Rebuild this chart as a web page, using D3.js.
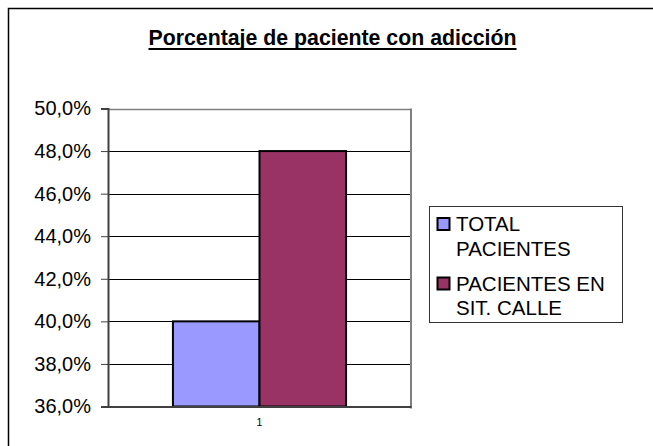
<!DOCTYPE html>
<html>
<head>
<meta charset="utf-8">
<script src="https://cdn.jsdelivr.net/npm/d3@7"></script>
<style>
  body { margin: 0; background: #fff; }
  text { font-family: "Liberation Sans", Arial, sans-serif; }
</style>
</head>
<body>
<div id="chart"></div>
<script>
// Data
const categories = ["1"];
const seriesNames = ["TOTAL PACIENTES", "PACIENTES EN SIT. CALLE"];
const seriesValues = [0.400, 0.480];
const seriesColors = ["#9999FF", "#993366"];
const legendLines = [["TOTAL", "PACIENTES"], ["PACIENTES EN", "SIT. CALLE"]];
const yTicks = [0.36, 0.38, 0.40, 0.42, 0.44, 0.46, 0.48, 0.50];
const titleText = "Porcentaje de paciente con adicción";

const width = 653;
const height = 446;
const plot = { left: 108, right: 411, top: 108.5, bottom: 406.5 };

const svg = d3.select("#chart")
  .append("svg")
  .attr("width", width)
  .attr("height", height);

// outer chart border (runs off the right/bottom edge)
svg.append("rect")
  .attr("x", 8.5)
  .attr("y", 8.5)
  .attr("width", 680)
  .attr("height", 480)
  .attr("fill", "#fff")
  .attr("stroke", "#000")
  .attr("stroke-width", 1.5);

// Title with underline
const title = svg.append("text")
  .attr("x", 332.5)
  .attr("y", 45)
  .attr("text-anchor", "middle")
  .attr("font-size", 21.3)
  .attr("font-weight", "bold")
  .attr("fill", "#000")
  .text(titleText);
const tb = title.node().getBBox();
svg.append("line")
  .attr("x1", tb.x)
  .attr("x2", tb.x + tb.width)
  .attr("y1", 49)
  .attr("y2", 49)
  .attr("stroke", "#000")
  .attr("stroke-width", 2);

// Scales
const y = d3.scaleLinear()
  .domain([0.36, 0.50])
  .range([plot.bottom, plot.top]);

const x0 = d3.scaleBand()
  .domain(categories)
  .range([plot.left, plot.right])
  .paddingInner(0)
  .paddingOuter(0.375);

const x1 = d3.scaleBand()
  .domain(seriesNames)
  .range([0, x0.bandwidth()])
  .padding(0);

const esLocale = d3.formatLocale({ decimal: ",", thousands: ".", grouping: [3], currency: ["", "€"] });
const fmt = esLocale.format(".1%");

// Gridlines
svg.append("g")
  .selectAll("line")
  .data(yTicks.slice(1))
  .enter()
  .append("line")
    .attr("x1", plot.left)
    .attr("x2", plot.right)
    .attr("y1", d => Math.round(y(d)) + 0.5)
    .attr("y2", d => Math.round(y(d)) + 0.5)
    .attr("stroke", d => d === 0.50 ? "#808080" : "#000")
    .attr("stroke-width", d => d === 0.50 ? 1.5 : 1);

// right frame border
svg.append("line")
  .attr("x1", plot.right)
  .attr("x2", plot.right)
  .attr("y1", plot.top)
  .attr("y2", plot.bottom + 2)
  .attr("stroke", "#808080")
  .attr("stroke-width", 2);

// Bars
svg.append("g")
  .attr("transform", `translate(${x0(categories[0])},0)`)
  .selectAll("rect")
  .data(seriesValues)
  .enter()
  .append("rect")
    .attr("x", (d, i) => x1(seriesNames[i]))
    .attr("y", d => y(d))
    .attr("width", x1.bandwidth())
    .attr("height", d => plot.bottom - y(d))
    .attr("fill", (d, i) => seriesColors[i])
    .attr("stroke", "#000")
    .attr("stroke-width", 2);

// Y axis
const yAxis = svg.append("g")
  .attr("transform", `translate(${plot.left},0)`)
  .call(d3.axisLeft(y).tickValues(yTicks).tickFormat(fmt).tickSize(7).tickPadding(10));
yAxis.select(".domain")
  .attr("stroke", "#404040")
  .attr("stroke-width", 2);
yAxis.selectAll(".tick line").attr("stroke", "#404040");
yAxis.selectAll(".tick text")
  .attr("font-family", "Liberation Sans, Arial, sans-serif")
  .attr("font-size", 20)
  .attr("fill", "#000");

// X axis
const xAxis = svg.append("g")
  .attr("transform", `translate(0,${plot.bottom})`)
  .call(d3.axisBottom(x0).tickSize(0).tickPadding(12));
xAxis.select(".domain")
  .attr("stroke", "#404040")
  .attr("stroke-width", 2);
xAxis.selectAll(".tick text")
  .attr("font-family", "Liberation Sans, Arial, sans-serif")
  .attr("font-size", 10.5)
  .attr("fill", "#000");

// Legend
const legend = svg.append("g");
legend.append("rect")
  .attr("x", 429.5)
  .attr("y", 206.5)
  .attr("width", 193)
  .attr("height", 116)
  .attr("fill", "#fff")
  .attr("stroke", "#333")
  .attr("stroke-width", 1);

const entryY = [231, 290.5];
seriesNames.forEach((name, i) => {
  legend.append("rect")
    .attr("x", 437.5)
    .attr("y", entryY[i] - 13)
    .attr("width", 12)
    .attr("height", 12)
    .attr("fill", seriesColors[i])
    .attr("stroke", "#000")
    .attr("stroke-width", 2);
  legendLines[i].forEach((line, j) => {
    legend.append("text")
      .attr("x", 456)
      .attr("y", entryY[i] + j * 24.5)
      .attr("font-size", 20.5)
      .attr("fill", "#000")
      .text(line);
  });
});
</script>
</body>
</html>
